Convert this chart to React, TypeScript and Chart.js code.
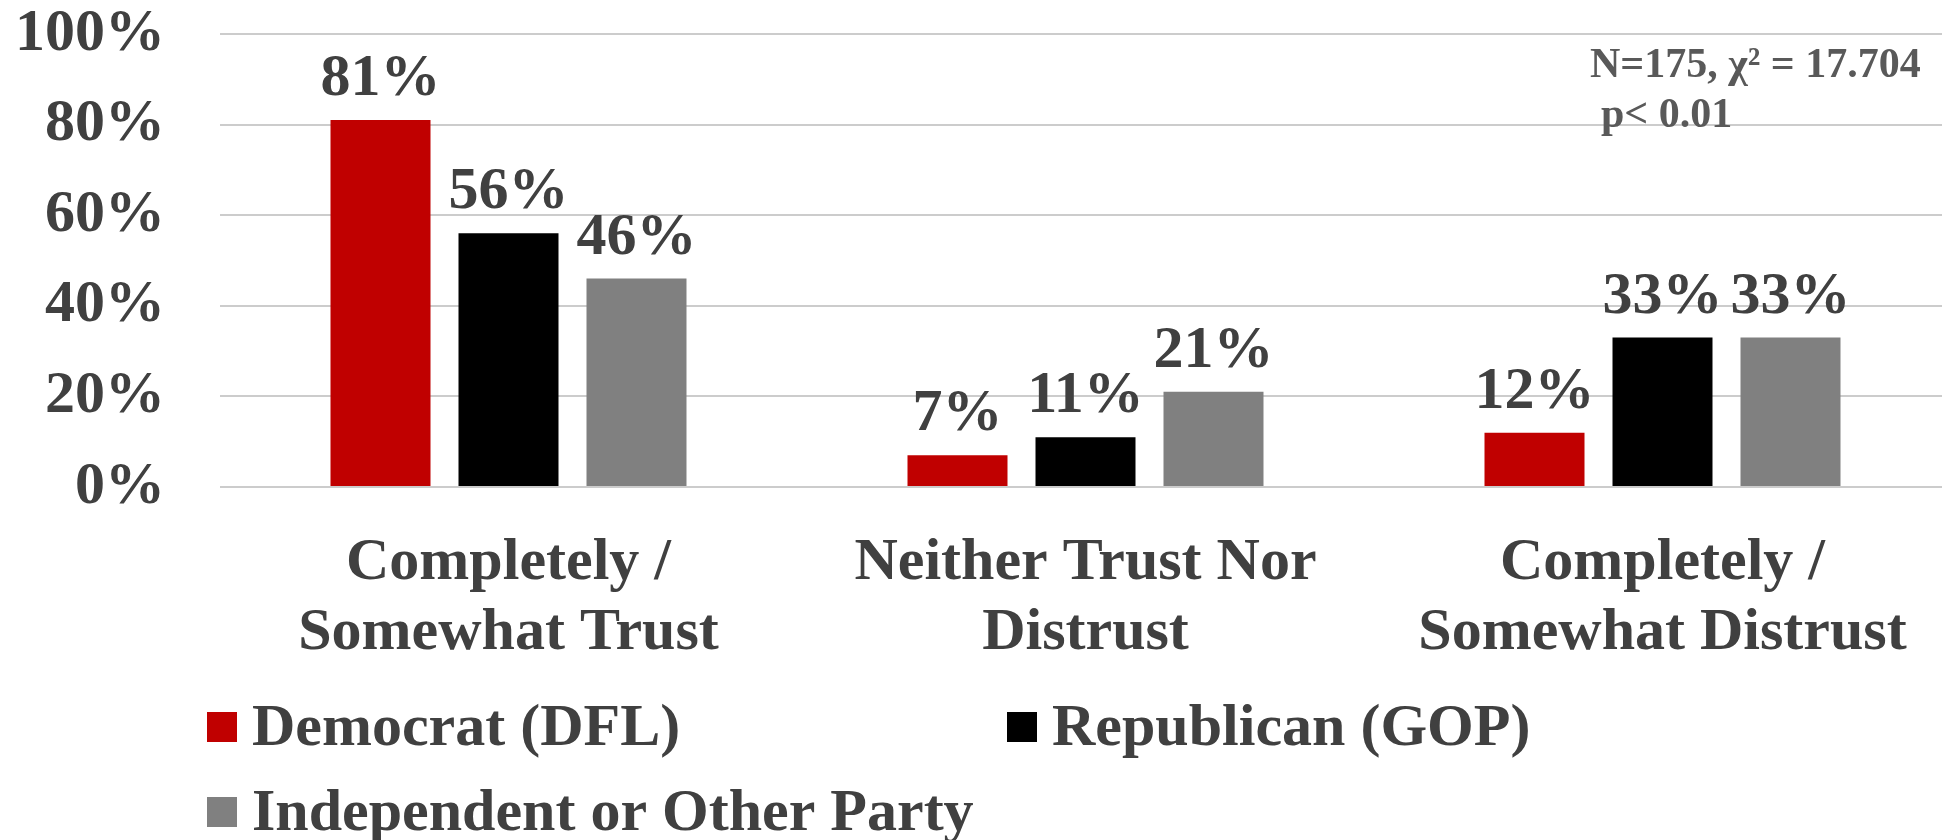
import React, { useEffect, useRef } from "react";
import { Chart, registerables } from "chart.js";

Chart.register(...registerables);

// ---- data ----
const categories: string[][] = [
  ["Completely /", "Somewhat Trust"],
  ["Neither Trust Nor", "Distrust"],
  ["Completely /", "Somewhat Distrust"],
];
const seriesNames = ["Democrat (DFL)", "Republican (GOP)", "Independent or Other Party"];
const democrat = [81, 7, 12];
const republican = [56, 11, 33];
const independent = [46, 21, 33];
const seriesColors = ["#C00000", "#000000", "#808080"];
const yMin = 0;
const yMax = 100;
const yStep = 20;
const noteLines = ["N=175, \u03C7\u00B2 = 17.704", "p< 0.01"];

const FONT = '"Liberation Serif", "Times New Roman", serif';
const TEXT = "#404040";

const dataLabelPlugin = {
  id: "dataLabels",
  afterDatasetsDraw(chart: any) {
    const ctx = chart.ctx;
    ctx.save();
    ctx.font = `bold 60px ${FONT}`;
    ctx.fillStyle = TEXT;
    ctx.textAlign = "center";
    ctx.textBaseline = "alphabetic";
    chart.data.datasets.forEach((ds: any, i: number) => {
      const meta = chart.getDatasetMeta(i);
      meta.data.forEach((bar: any, j: number) => {
        ctx.fillText(`${ds.data[j]}%`, bar.x, bar.y - 25);
      });
    });
    ctx.restore();
  },
};

const legendAndNotePlugin = {
  id: "customLegend",
  afterDraw(chart: any) {
    const ctx = chart.ctx;
    ctx.save();
    // legend
    const slots = [
      { x: 207, y: 712 },
      { x: 1007, y: 712 },
      { x: 207, y: 797 },
    ];
    ctx.font = `bold 60px ${FONT}`;
    ctx.textAlign = "left";
    ctx.textBaseline = "alphabetic";
    chart.data.datasets.forEach((ds: any, i: number) => {
      const s = slots[i];
      ctx.fillStyle = ds.backgroundColor;
      ctx.fillRect(s.x, s.y, 30, 30);
      ctx.fillStyle = TEXT;
      ctx.fillText(ds.label, s.x + 45, s.y + 33);
    });
    // statistics note
    ctx.fillStyle = "#595959";
    ctx.font = `bold 42px ${FONT}`;
    ctx.fillText(noteLines[0], 1590, 77);
    ctx.fillText(noteLines[1], 1601, 127);
    ctx.restore();
  },
};

export default function App() {
  const ref = useRef<HTMLCanvasElement | null>(null);

  useEffect(() => {
    if (!ref.current) return;
    const chart = new Chart(ref.current, {
      type: "bar",
      data: {
        labels: categories,
        datasets: [
          { label: seriesNames[0], data: democrat, backgroundColor: seriesColors[0] },
          { label: seriesNames[1], data: republican, backgroundColor: seriesColors[1] },
          { label: seriesNames[2], data: independent, backgroundColor: seriesColors[2] },
        ],
      },
      options: {
        responsive: false,
        animation: false,
        devicePixelRatio: 1,
        layout: { padding: { top: 34, right: 1, left: 0, bottom: 0 } },
        datasets: {
          bar: { categoryPercentage: 0.6655, barPercentage: 0.78125 },
        },
        plugins: {
          legend: { display: false },
          tooltip: { enabled: false },
          title: { display: false },
        },
        scales: {
          x: {
            grid: { display: false, drawTicks: false },
            border: { display: false },
            ticks: {
              color: TEXT,
              padding: 41,
              maxRotation: 0,
              autoSkip: false,
              font: { family: FONT, size: 60, weight: "bold", lineHeight: "70px" } as any,
            },
            afterFit(scale: any) {
              scale.height = 353;
            },
          },
          y: {
            min: yMin,
            max: yMax,
            grid: { color: "#cccccc", lineWidth: 2, drawTicks: false },
            border: { display: false },
            ticks: {
              stepSize: yStep,
              color: TEXT,
              padding: 55,
              font: { family: FONT, size: 60, weight: "bold", lineHeight: 1 } as any,
              callback: (v: any) => `${v}%`,
            },
            afterFit(scale: any) {
              scale.width = 220;
              scale.paddingTop = 0;
              scale.paddingBottom = 0;
            },
          },
        },
      },
      plugins: [dataLabelPlugin, legendAndNotePlugin],
    });
    return () => chart.destroy();
  }, []);

  return (
    <div
      style={{
        position: "fixed",
        left: 0,
        top: 0,
        width: 1942,
        height: 840,
        overflow: "hidden",
        background: "#ffffff",
      }}
    >
      <canvas ref={ref} width={1952} height={840} style={{ display: "block" }} />
    </div>
  );
}
